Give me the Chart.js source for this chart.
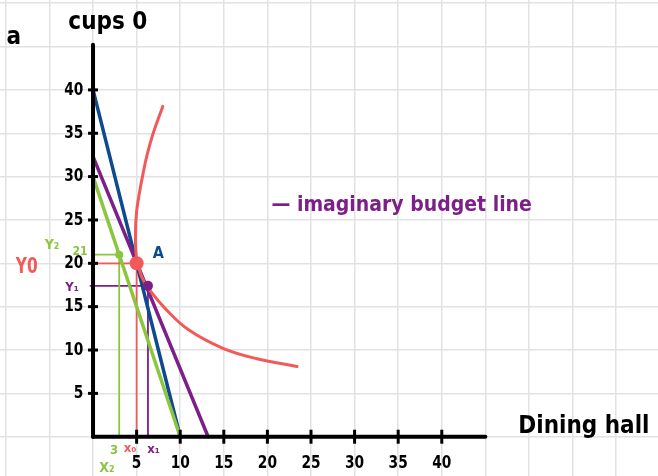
<!DOCTYPE html>
<html>
<head>
<meta charset="utf-8">
<script src="https://cdn.jsdelivr.net/npm/chart.js@4.4.1/dist/chart.umd.min.js"></script>
<style>
  html,body{margin:0;padding:0;background:#fff;}
  #wrap{width:658px;height:476px;position:relative;}
</style>
</head>
<body>
<div id="wrap"><canvas id="c"></canvas></div>
<script>
// ---- data ----
const X_TICKS = [5, 10, 15, 20, 25, 30, 35, 40];
const Y_TICKS = [5, 10, 15, 20, 25, 30, 35, 40];
const BLUE_BUDGET = [{x: 0, y: 40}, {x: 10, y: 0}];
const GREEN_BUDGET = [{x: 0, y: 30}, {x: 10, y: 0}];
const PURPLE_BUDGET = [{x: 0, y: 32.3}, {x: 13.2, y: 0}];
const INDIFFERENCE = [
  {x: 8.0, y: 38.1}, {x: 6.9, y: 35.0}, {x: 6.2, y: 32.5}, {x: 5.75, y: 30.4}, {x: 5.3, y: 28.0},
  {x: 5.0, y: 26.0}, {x: 4.87, y: 23.5}, {x: 5.0, y: 20.5}, {x: 5.6, y: 18.4}, {x: 6.5, y: 16.9},
  {x: 8.45, y: 14.6}, {x: 11.0, y: 12.3}, {x: 14.9, y: 10.2}, {x: 18.8, y: 9.0}, {x: 23.4, y: 8.1}
];
const POINT_A = {x: 5, y: 20};
const POINT_GREEN = {x: 3, y: 21};
const POINT_PURPLE = {x: 6.3, y: 17.4};
const X_AXIS_END = 45;
const Y_AXIS_END = 45.2;

// ---- styles ----
const C_BLUE = '#0d4a8e', C_GREEN = '#8cc540', C_PURPLE = '#7d1f89', C_RED = '#f25a5a', C_BLACK = '#000';

function seg(data, color, width, order) {
  return {data, borderColor: color, backgroundColor: color, borderWidth: width,
    showLine: true, pointRadius: 0, tension: 0, order, borderCapStyle: 'round'};
}
function pt(p, color, r, order) {
  return {data: [p], backgroundColor: color, borderColor: color, pointRadius: r, borderWidth: 0, showLine: false, order};
}

const datasets = [
  // axes
  seg([{x: 0, y: 0}, {x: 0, y: Y_AXIS_END}], C_BLACK, 4, 1),
  seg([{x: 0, y: 0}, {x: X_AXIS_END, y: 0}], C_BLACK, 4, 1),
  // axis tick marks
  {data: Y_TICKS.map(v => ({x: 0, y: v})), pointStyle: 'line', pointRadius: 5, borderWidth: 3,
    borderColor: C_BLACK, showLine: false, order: 1},
  {data: X_TICKS.map(v => ({x: v, y: 0})), pointStyle: 'line', pointRadius: 7, rotation: 90, borderWidth: 3,
    borderColor: C_BLACK, showLine: false, order: 1},
  // points
  pt(POINT_A, C_RED, 7, 2),
  pt(POINT_GREEN, C_GREEN, 4, 2),
  pt(POINT_PURPLE, C_PURPLE, 5, 2),
  // main lines
  {...seg(INDIFFERENCE, C_RED, 3, 3), tension: 0.4},
  seg(GREEN_BUDGET, C_GREEN, 3.5, 4),
  seg(PURPLE_BUDGET, C_PURPLE, 3.5, 5),
  seg(BLUE_BUDGET, C_BLUE, 3.5, 6),
  // helper lines
  seg([{x: 0, y: POINT_A.y}, POINT_A, {x: POINT_A.x, y: 0}], C_RED, 1.8, 7),
  seg([{x: 0, y: POINT_GREEN.y}, POINT_GREEN, {x: POINT_GREEN.x, y: 0}], C_GREEN, 1.8, 7),
  seg([{x: -0.3, y: POINT_PURPLE.y}, POINT_PURPLE, {x: POINT_PURPLE.x, y: 0}], C_PURPLE, 1.8, 7)
];

const FONT = "'Liberation Sans Narrow','DejaVu Sans Condensed','Noto Sans',sans-serif";
const annotations = [
  {t: 'a', x: -9.1, y: 46.0, c: C_BLACK, s: 24, w: 'bold'},
  {t: 'cups 0', x: 1.7, y: 47.8, c: C_BLACK, s: 24, w: 'bold'},
  {t: 'Y₂', x: -4.7, y: 22.1, c: C_GREEN, s: 14, w: 'bold'},
  {t: '21', x: -1.5, y: 21.3, c: C_GREEN, s: 12, w: 'bold'},
  {t: 'Y0', x: -7.6, y: 19.5, c: C_RED, s: 22, w: 'bold', sx: 0.78},
  {t: 'Y₁', x: -2.4, y: 17.2, c: C_PURPLE, s: 13, w: 'bold'},
  {t: 'A', x: 7.5, y: 21.1, c: C_BLUE, s: 16, w: 'bold'},
  {t: '3', x: 2.4, y: -1.6, c: C_GREEN, s: 13, w: 'bold'},
  {t: 'X₂', x: 1.6, y: -3.65, c: C_GREEN, s: 14, w: 'bold'},
  {t: 'x₀', x: 4.25, y: -1.35, c: C_RED, s: 13, w: 'bold'},
  {t: 'x₁', x: 6.95, y: -1.5, c: C_PURPLE, s: 13, w: 'bold'},
  {t: 'Dining hall', x: 56.3, y: 1.15, c: C_BLACK, s: 24, w: 'bold'},
  {t: '— imaginary budget line', x: 35.4, y: 26.7, c: C_PURPLE, s: 21, w: 'bold'}
];

function drawText(ctx, t, px, py, sx) {
  ctx.save();
  ctx.translate(px, py);
  ctx.scale(sx || 1, 1);
  ctx.fillText(t, 0, 0);
  ctx.restore();
}

const textPlugin = {
  id: 'texts',
  afterDatasetsDraw(chart) {
    const {ctx, scales: {x, y}} = chart;
    ctx.save();
    ctx.textBaseline = 'middle';
    ctx.fillStyle = C_BLACK;
    ctx.font = 'bold 18px ' + FONT;
    ctx.textAlign = 'right';
    Y_TICKS.forEach(v => drawText(ctx, String(v), x.getPixelForValue(-1.1), y.getPixelForValue(v), 0.85));
    ctx.textAlign = 'center';
    X_TICKS.forEach(v => drawText(ctx, String(v), x.getPixelForValue(v), y.getPixelForValue(-3.07), 0.85));
    annotations.forEach(a => {
      ctx.fillStyle = a.c;
      ctx.font = a.w + ' ' + a.s + 'px ' + FONT;
      drawText(ctx, a.t, x.getPixelForValue(a.x), y.getPixelForValue(a.y), a.sx);
    });
    ctx.restore();
  }
};

const gridTicks = (lo, hi) => scale => {
  const t = [];
  for (let v = lo; v <= hi; v += 5) t.push({value: v});
  scale.ticks = t;
};

new Chart(document.getElementById('c'), {
  type: 'scatter',
  data: {datasets},
  options: {
    responsive: true, maintainAspectRatio: false, animation: false,
    layout: {padding: 0, autoPadding: false},
    plugins: {legend: {display: false}, tooltip: {enabled: false}},
    scales: {
      x: {type: 'linear', min: -10.67, max: 64.8, afterBuildTicks: gridTicks(-10, 60),
        ticks: {display: false}, border: {display: false},
        grid: {color: '#e2e2e2', lineWidth: 1.5, drawTicks: false}},
      y: {type: 'linear', min: -4.53, max: 50.37, afterBuildTicks: gridTicks(0, 50),
        ticks: {display: false}, border: {display: false},
        grid: {color: '#e2e2e2', lineWidth: 1.5, drawTicks: false}}
    }
  },
  plugins: [textPlugin]
});
</script>
</body>
</html>
